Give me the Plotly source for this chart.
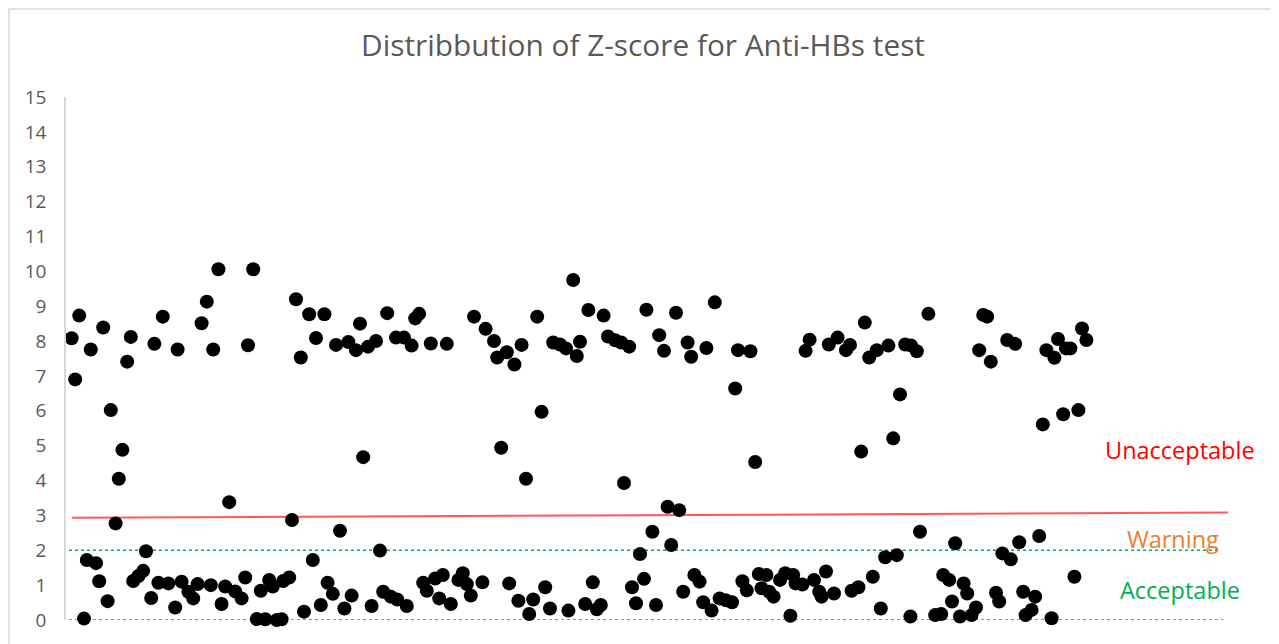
import plotly.graph_objects as go

# Sample position (lab index along the x axis) and Z-score
sample_no = [1.4, 2.3, 3.3, 4.5, 5.2, 6.2, 7.5, 8.3, 9.3, 10.4, 11.2, 12.4, 13.2, 14.1, 15.3, 16.2,
             16.8, 18.1, 19.3, 20.0, 21.3, 22.1, 23.1, 24.2, 25.6, 27.3, 27.9, 28.9, 30.6, 31.8,
             32.9, 33.9, 35.2, 36.2, 36.8, 38.1, 38.9, 39.8, 40.8, 42.3, 43.9, 44.8, 45.5, 46.8,
             47.7, 48.7, 49.8, 50.8, 51.7, 52.7, 53.9, 54.3, 55.8, 56.5, 57.5, 58.7, 59.5, 60.8,
             61.7, 62.5, 63.7, 64.6, 65.4, 66.7, 67.5, 68.5, 69.6, 70.6, 71.4, 72.5, 73.5, 74.3,
             75.5, 76.4, 77.5, 78.5, 79.3, 80.3, 81.2, 82.5, 82.8, 84.5, 85.2, 86.4, 87.3, 88.3,
             89.3, 90.2, 91.2, 92.3, 93.3, 94.2, 95.2, 96.2, 98.1, 99.2, 100.2, 101.2, 102.0,
             104.1, 104.9, 107.0, 107.8, 108.8, 110.2, 110.8, 112.1, 113.1, 113.9, 115.0, 115.8,
             116.8, 117.8, 118.9, 119.8, 121.0, 121.8, 123.5, 125.0, 125.6, 126.8, 127.7, 128.5,
             129.8, 130.6, 131.7, 132.7, 133.7, 134.4, 135.5, 137.3, 138.8, 139.5, 140.8, 141.5,
             142.5, 143.5, 144.5, 145.1, 146.6, 147.5, 148.3, 149.5, 150.4, 151.3, 152.5, 153.3,
             154.3, 155.4, 156.3, 157.1, 158.4, 159.3, 160.1, 161.4, 162.2, 163.4, 164.9, 166.5,
             167.3, 168.0, 169.1, 170.2, 171.1, 172.3, 173.2, 173.9, 175.1, 175.8, 176.9, 178.5,
             179.8, 181.1, 181.8, 182.4, 184.1, 184.9, 185.9, 187.0, 188.3, 188.9, 190.0, 190.7,
             192.0, 192.9, 195.0, 196.0, 196.4, 198.1, 198.8, 199.7, 200.8, 201.7, 202.7, 203.7,
             204.8, 205.6, 206.8, 207.7, 208.5, 209.8, 211.1, 211.3, 212.7, 213.5, 214.3, 215.6,
             217.3, 218.8, 219.3, 220.8, 221.5, 222.3, 223.5, 224.4, 225.3, 226.4, 227.5, 228.3,
             229.3, 230.3, 231.2, 232.5, 233.3, 234.1, 235.3, 236.2, 237.3, 238.3, 239.3, 239.9,
             241.4, 242.3, 243.3, 244.2, 245.1, 246.4, 247.1, 248.0, 249.3, 250.0, 251.1, 252.1,
             253.1, 254.0, 255.1]

z_score = [8.08, 6.90, 8.73, 0.04, 1.72, 7.76, 1.63, 1.11, 8.39, 0.54, 6.02, 2.77, 4.05, 4.88, 7.41, 8.12,
           1.12, 1.26, 1.41, 1.97, 0.63, 7.92, 1.07, 8.70, 1.05, 0.36, 7.76, 1.10, 0.81, 0.62,
           1.03, 8.51, 9.13, 1.00, 7.76, 10.06, 0.46, 0.96, 3.38, 0.82, 0.62, 1.22, 7.88, 10.06,
           0.03, 0.84, 0.02, 1.15, 0.96, 0.00, 0.02, 1.12, 1.22, 2.87, 9.20, 7.53, 0.24, 8.77,
           1.72, 8.09, 0.43, 8.77, 1.07, 0.75, 7.89, 2.56, 0.33, 7.97, 0.70, 7.74, 8.50, 4.67,
           7.84, 0.40, 8.00, 1.99, 0.81, 8.80, 0.67, 8.10, 0.59, 8.10, 0.40, 7.87, 8.65, 8.78,
           1.07, 0.84, 7.93, 1.19, 0.62, 1.29, 7.92, 0.46, 1.15, 1.34, 1.03, 0.70, 8.70,
           1.08, 8.35, 8.00, 7.53, 4.94, 7.68, 1.05, 7.33, 0.55, 7.89, 4.05, 0.17,
           0.59, 8.70, 5.97, 0.94, 0.33, 7.96, 7.90, 7.79, 0.27, 9.75, 7.57, 7.98,
           0.46, 8.89, 1.08, 0.31, 0.43, 8.73, 8.13, 8.02, 7.96, 3.93, 7.84, 0.94,
           0.48, 1.89, 1.18, 8.90, 2.53, 0.43, 8.17, 7.72, 3.25, 2.15, 8.81, 3.15,
           0.81, 7.96, 7.55, 1.29, 1.10, 0.51, 7.80, 0.27, 9.11, 0.62, 0.57, 0.51,
           6.64, 7.74, 1.11, 0.85, 7.71, 4.53, 1.32, 0.91, 1.29, 0.81, 0.67, 1.15,
           1.34, 0.12, 1.29, 1.05, 1.02, 7.72, 8.04, 1.15, 0.81, 0.67, 1.39, 7.90,
           0.76, 8.10, 7.74, 7.89, 0.84, 0.94, 4.83, 8.53, 7.53, 1.24, 7.74, 0.33,
           1.80, 7.87, 5.21, 1.86, 6.47, 7.90, 0.10, 7.87, 7.71, 2.53, -0.03, 8.78,
           0.14, 0.17, 1.29, 1.15, 0.53, 2.20, 0.10, 1.05, 0.76, 0.14, 0.36, 7.74,
           8.75, 8.70, 7.41, 0.78, 0.53, 1.91, 8.03, 1.74, 7.92, 2.23, 0.81, 0.14,
           0.29, 0.67, 2.41, 5.61, 7.74, 0.05, 7.52, 8.06, 5.90, 7.79, 7.79, 1.24,
           6.02, 8.36, 8.03]

# Reference lines
unacceptable_x = [1.5, 290.5]
unacceptable_y = [2.93, 3.08]
warning_x = [-0.75, 288.0]
warning_y = [2.0, 2.0]
zero_x = [-0.75, 289.3]
zero_y = [0.0, 0.0]

# Zone labels
zone_labels = ["Unacceptable", "Warning", "Acceptable"]
zone_x = [278.5, 276.8, 278.5]
zone_y = [4.88, 2.32, 0.86]
zone_colors = ["#ff0000", "#ed7d31", "#00b050"]

y_ticks = list(range(0, 16))

fig = go.Figure()

fig.add_trace(go.Scatter(x=zero_x, y=zero_y, mode="lines",
                         line=dict(color="#00b050", width=1.5, dash="dot"),
                         hoverinfo="skip", showlegend=False, cliponaxis=False))
fig.add_trace(go.Scatter(x=warning_x, y=warning_y, mode="lines",
                         line=dict(color="#00b050", width=1.5, dash="dot"),
                         hoverinfo="skip", showlegend=False, cliponaxis=False))
fig.add_trace(go.Scatter(x=unacceptable_x, y=unacceptable_y, mode="lines",
                         line=dict(color="#ff5a5a", width=2),
                         hoverinfo="skip", showlegend=False, cliponaxis=False))

fig.add_trace(go.Scatter(x=sample_no, y=z_score, mode="markers",
                         marker=dict(color="black", size=14, line=dict(width=0)),
                         showlegend=False, cliponaxis=False))

for label, lx, ly, c in zip(zone_labels, zone_x, zone_y, zone_colors):
    fig.add_annotation(x=lx, y=ly, xref="x", yref="y", text=label, showarrow=False,
                       font=dict(family="Open Sans, sans-serif", size=23.5, color=c),
                       xanchor="center", yanchor="middle")

# Chart border
fig.add_shape(type="rect", xref="paper", yref="paper",
              x0=-57 / 1164, x1=1208 / 1164, y0=-0.2, y1=1 + 88 / 523,
              line=dict(color="#d9d9d9", width=1.5), fillcolor="rgba(0,0,0,0)", layer="below")

fig.update_layout(
    width=1279, height=644,
    margin=dict(l=58, r=57, t=89, b=32),
    paper_bgcolor="white", plot_bgcolor="white",
    title=dict(text="Distribbution of Z-score for Anti-HBs test",
               x=635 / 1279, xanchor="center", y=1 - 38 / 644, yanchor="middle",
               font=dict(family="Open Sans, sans-serif", size=29.8, color="#595959")),
    xaxis=dict(range=[0, 291], showgrid=False, zeroline=False, showline=False,
               showticklabels=False, ticks=""),
    yaxis=dict(range=[0, 15], tickvals=y_ticks, showgrid=False, zeroline=False,
               showline=True, linecolor="#d9d9d9", linewidth=1.5,
               ticks="", ticklabelstandoff=14,
               tickfont=dict(family="Open Sans, sans-serif", size=19, color="#595959")),
)

fig.write_html("out.html")
